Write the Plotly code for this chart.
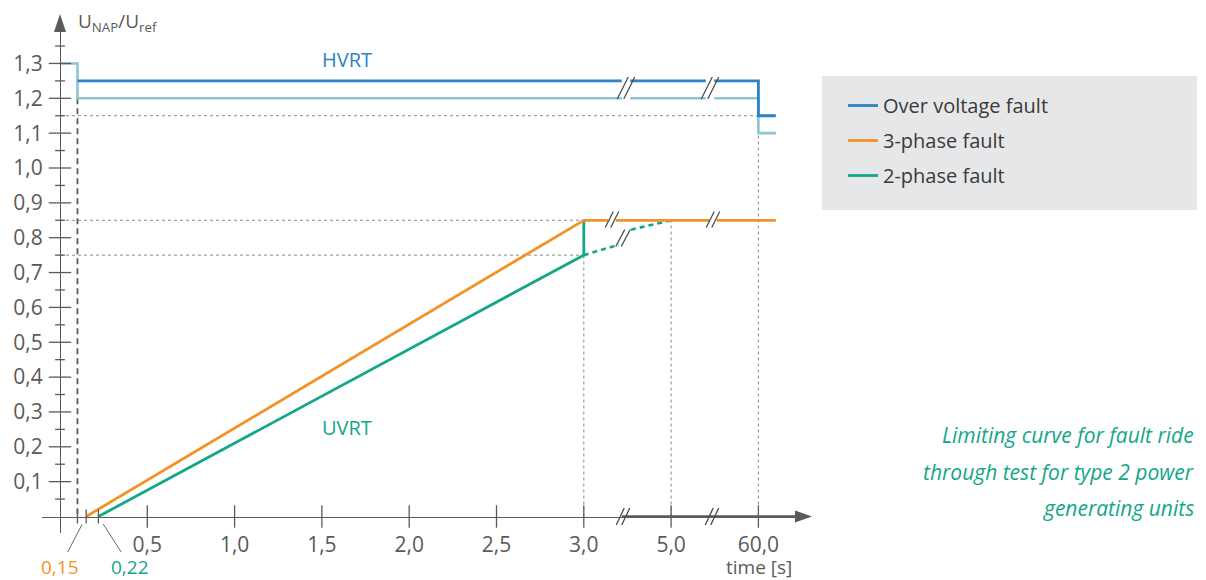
import plotly.graph_objects as go

# ---------------- data (positions on the broken time axis) ----------------
x_tick_pos = [0.5, 1.0, 1.5, 2.0, 2.5, 3.0, 3.5, 4.0]
x_tick_text = ["0,5", "1,0", "1,5", "2,0", "2,5", "3,0", "5,0", "60,0"]
x_small_ticks = [0.1, 0.15, 0.22]

y_tick_vals = [0.1, 0.2, 0.3, 0.4, 0.5, 0.6, 0.7, 0.8, 0.9, 1.0, 1.1, 1.2, 1.3]
y_tick_text = ["0,1", "0,2", "0,3", "0,4", "0,5", "0,6", "0,7", "0,8", "0,9",
               "1,0", "1,1", "1,2", "1,3"]
y_minor_vals = [0.05, 0.15, 0.25, 0.35, 0.45, 0.55, 0.65, 0.75, 0.85, 0.95,
                1.05, 1.15, 1.25, 1.35]

# HVRT limits
hv_light_x = [0.0, 0.1, 0.1, 4.0, 4.0, 4.1]
hv_light_y = [1.3, 1.3, 1.2, 1.2, 1.1, 1.1]
hv_dark_x = [0.1, 4.0, 4.0, 4.1]
hv_dark_y = [1.25, 1.25, 1.15, 1.15]

# UVRT limits
three_x = [0.15, 3.0, 4.1]
three_y = [0.0, 0.85, 0.85]
two_x = [0.22, 3.0, 3.0]
two_y = [0.0, 0.75, 0.85]
two_dash_x = [3.0, 3.2, None, 3.27, 3.5]
two_dash_y = [0.75, 0.78, None, 0.823, 0.85]

# reference (dotted) guide lines
guide_h_y = [1.15, 0.85, 0.75]
guide_h_x_end = [4.0, 3.0, 3.0]
guide_v_x = [3.0, 3.5, 4.0]
guide_v_y_end = [0.85, 0.85, 1.1]

fault_start_x = 0.1
fault_start_y_top = 1.2

legend_names = ["Over voltage fault", "3-phase fault", "2-phase fault"]
caption_lines = ["Limiting curve for fault ride",
                 "through test for type 2 power",
                 "generating units"]

# ---------------- styles ----------------
W, H = 1206, 580
X0_PX, SX = 60.0, 174.6     # x=0 pixel, px per unit
Y0_PX, SY = 516.5, 348.5    # y=0 pixel, px per unit
DARK_BLUE = "#2b83c6"
LIGHT_BLUE = "#8ec4d4"
ORANGE = "#f39325"
TEAL = "#14a689"
AXIS = "#5a5a5a"
TXT = "#5a5a5a"
FONT = "Open Sans"
FS = 20

def px_to_x(p):
    return (p - X0_PX) / SX

def px_to_y(p):
    return (Y0_PX - p) / SY

def pfx(p):
    return p / W

def pfy(p):
    return (H - p) / H

fig = go.Figure()

def line(x, y, color, width, dash=None, name=None, legend=False, group=None):
    fig.add_trace(go.Scatter(
        x=x, y=y, mode="lines", name=name, showlegend=legend,
        legendgroup=group, hoverinfo="skip",
        line=dict(color=color, width=width, dash=dash)))

# dotted guides
for yv, xe in zip(guide_h_y, guide_h_x_end):
    line([0, xe], [yv, yv], "#8a8a8a", 1, "dot")
for xv, ye in zip(guide_v_x, guide_v_y_end):
    line([xv, xv], [0, ye], "#8a8a8a", 1, "dot")

# dashed fault-start line
line([fault_start_x, fault_start_x], [fault_start_y_top, 0], AXIS, 1.8, "6px,4px")

# thicker part of x axis after the break
line([px_to_x(622), px_to_x(798)], [0, 0], AXIS, 2.4)

# curves
line(hv_light_x, hv_light_y, LIGHT_BLUE, 2.6)
line(hv_dark_x, hv_dark_y, DARK_BLUE, 2.8, name=legend_names[0], legend=True, group="a")
line(two_dash_x, two_dash_y, TEAL, 2.6, "5px,4px")
line(two_x, two_y, TEAL, 2.8)
line(three_x, three_y, ORANGE, 2.8, name=legend_names[1], legend=True, group="b")
fig.add_trace(go.Scatter(x=[None], y=[None], mode="lines", name=legend_names[2],
                         legendgroup="c", showlegend=True,
                         line=dict(color=TEAL, width=2.8)))

# break marks
def break_mark(cx_px, cy_px, h, w, gap, clear_ys=()):
    for yv in clear_ys:
        line([px_to_x(cx_px - gap / 2 - 1), px_to_x(cx_px + gap / 2 + 1)], [yv, yv],
             "white", 5)
    xs, ys = [], []
    for c in (cx_px - gap / 2, cx_px + gap / 2):
        xs += [px_to_x(c - w / 2), px_to_x(c + w / 2), None]
        ys += [px_to_y(cy_px + h / 2), px_to_y(cy_px - h / 2), None]
    line(xs, ys, "#4a4a4a", 1.3)

break_mark(626, 88, 22, 11, 6.5, clear_ys=(1.25, 1.2))
break_mark(710, 88, 22, 11, 6.5, clear_ys=(1.25, 1.2))
break_mark(612, 219.5, 16, 8, 5.5, clear_ys=(0.85,))
break_mark(713, 219.5, 16, 8, 5.5, clear_ys=(0.85,))
break_mark(623, 238, 17, 9, 5.5)
break_mark(623, 516.5, 17, 8, 5.5)
break_mark(712, 516.5, 17, 8, 5.5)

# tick marks (crossing the axes)
def ticks(x, y, symbol, size):
    fig.add_trace(go.Scatter(
        x=x, y=y, mode="markers", showlegend=False, hoverinfo="skip",
        cliponaxis=False,
        marker=dict(symbol=symbol, size=size, line=dict(color=AXIS, width=1.3))))

ticks(x_tick_pos, [0] * len(x_tick_pos), "line-ns", 16)
ticks(x_small_ticks, [0] * len(x_small_ticks), "line-ns", 10)
ticks([0] * len(y_tick_vals), y_tick_vals, "line-ew", 16)
ticks([0] * len(y_minor_vals), y_minor_vals, "line-ew", 7)

# arrow heads (paper-space triangles)
def tri(pts):
    return "M " + " L ".join(f"{pfx(a):.5f},{pfy(b):.5f}" for a, b in pts) + " Z"

shapes = [
    dict(type="rect", xref="paper", yref="paper",
         x0=pfx(822), x1=pfx(1197), y0=pfy(210), y1=pfy(76),
         fillcolor="#e6e7e8", line=dict(width=0), layer="below"),
    dict(type="path", xref="paper", yref="paper",
         path=tri([(795, 510.5), (812, 516.5), (795, 522.5)]),
         fillcolor=AXIS, line=dict(width=0)),
    dict(type="path", xref="paper", yref="paper",
         path=tri([(54, 32), (60, 14), (66, 32)]),
         fillcolor=AXIS, line=dict(width=0)),
]

# ---------------- layout ----------------
fig.update_layout(
    width=W, height=H,
    margin=dict(l=0, r=0, t=0, b=0, autoexpand=False),
    paper_bgcolor="white", plot_bgcolor="rgba(0,0,0,0)",
    font=dict(family=FONT, size=FS, color=TXT),
    xaxis=dict(domain=[pfx(42), pfx(798)],
               range=[px_to_x(42), px_to_x(798)],
               anchor="free", position=pfy(Y0_PX),
               showline=True, linecolor=AXIS, linewidth=1.3,
               tickvals=x_tick_pos, ticktext=x_tick_text,
               ticks="", showgrid=False, zeroline=False, automargin=False,
               ticklabelstandoff=9, tickfont=dict(size=21, color=TXT)),
    yaxis=dict(domain=[pfy(533), pfy(30)],
               range=[px_to_y(533), px_to_y(30)],
               anchor="free", position=pfx(X0_PX),
               showline=True, linecolor=AXIS, linewidth=1.3,
               tickvals=y_tick_vals, ticktext=y_tick_text,
               ticks="", showgrid=False, zeroline=False, automargin=False,
               ticklabelstandoff=13, tickfont=dict(size=21, color=TXT)),
    showlegend=True,
    legend=dict(x=pfx(843), y=pfy(86), xanchor="left", yanchor="top",
                bgcolor="rgba(0,0,0,0)", font=dict(size=FS, color="#3a3a3a"),
                traceorder="grouped", tracegroupgap=6, itemwidth=30),
    shapes=shapes,
)

ann = []
def label(x_px, y_px, text, color, xanchor="center", size=FS):
    ann.append(dict(xref="paper", yref="paper", x=pfx(x_px), y=pfy(y_px),
                    xanchor=xanchor, yanchor="middle", showarrow=False,
                    text=text, font=dict(size=size, color=color)))

label(76, 22, "U<sub>NAP</sub>/U<sub>ref</sub>", TXT, xanchor="left", size=19)
label(347, 60, "HVRT", DARK_BLUE)
label(347, 427, "UVRT", TEAL)
label(759, 567, "time [s]", TXT, size=19)
for i, t in enumerate(caption_lines):
    label(1196, 435 + 36.5 * i, "<i>" + t + "</i>", TEAL, xanchor="right", size=21)

ann.append(dict(xref="x", yref="y", x=0.15, y=0, ax=-26, ay=50,
                text="0,15", showarrow=True, arrowhead=0, arrowwidth=1,
                arrowcolor="#6a6a6a", standoff=9,
                font=dict(size=19, color=ORANGE)))
ann.append(dict(xref="x", yref="y", x=0.22, y=0, ax=32, ay=50,
                text="0,22", showarrow=True, arrowhead=0, arrowwidth=1,
                arrowcolor="#6a6a6a", standoff=9,
                font=dict(size=19, color=TEAL)))
fig.update_layout(annotations=ann)

fig.write_html("out.html", config={"displayModeBar": False},
               post_script="document.body.style.margin='0';")
